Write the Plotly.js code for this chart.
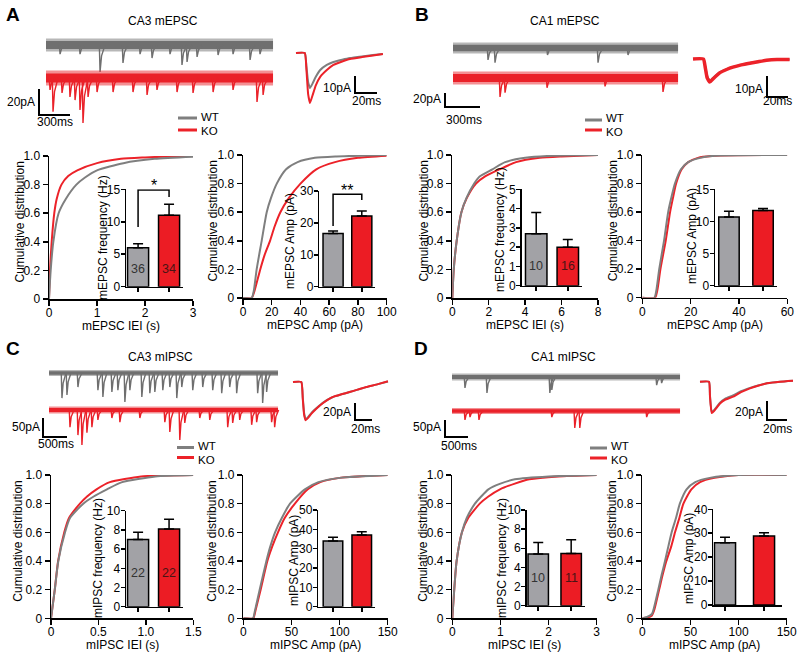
<!DOCTYPE html>
<html><head><meta charset="utf-8">
<script src="https://cdn.plot.ly/plotly-3.0.1.min.js"></script>
<style>html,body{margin:0;padding:0;background:#fff}#chart{width:800px;height:656px}</style>
</head><body><div id="chart"></div>
<script>
// ================= DATA =================
const groups = ['WT', 'KO'];

// ---- Panel A : CA3 mEPSC ----
const A_wt_evt_t = [136,329,523,745,910,1026,1200,1316,1365,1462,1665,1810,1975,2071];
const A_wt_evt_a = [7,7,20.8,13.8,7,10,7,15.4,13,9.2,7.7,7,11.5,7];
const A_ko_evt_t = [39,68,155,232,281,329,358,407,494,649,842,978,1074,1268,1423,1617,1810,2042,2101];
const A_ko_evt_a = [9.2,26,11.5,14.6,17,24.6,34.6,14.6,10.8,10.8,10.8,13,9.2,10.8,11.5,10.8,9.2,18.5,13];
const A_rec_ms = 2197;
const A_avg_t  = [0,8,9.5,11,12.7,15,18,22,28,34,42,49,60,70,79];
const A_avg_wt = [0,0,-8,-17,-20.6,-18,-14,-10,-7,-5.3,-4,-3,-2,-1.2,-0.6];
const A_avg_ko = [0,0,-10,-24,-29.4,-25,-19,-14,-10,-7,-5,-3.5,-2.4,-1.5,-0.6];
const A_iei_x_wt = [0,0.035,0.09,0.2,0.35,0.57,0.75,1.0,1.55,2.2,3.0];
const A_iei_y_wt = [0,0.2,0.4,0.6,0.7,0.8,0.85,0.9,0.95,0.98,0.995];
const A_iei_x_ko = [0,0.02,0.056,0.11,0.16,0.26,0.4,0.59,1.0,1.5,2.0,2.5,3.0];
const A_iei_y_ko = [0,0.2,0.4,0.6,0.7,0.8,0.86,0.9,0.95,0.98,0.99,0.997,1.0];
const A_amp_x_wt = [0,6,7.5,9.5,13,16.5,19.5,23.5,30,38,50,65,100];
const A_amp_y_wt = [0,0,0.05,0.2,0.4,0.6,0.7,0.8,0.9,0.95,0.98,0.99,1.0];
const A_amp_x_ko = [0,6,8,12,15,18.8,22,26,32,40,51,64,80,100];
const A_amp_y_ko = [0,0,0.05,0.2,0.3,0.4,0.5,0.6,0.7,0.8,0.9,0.95,0.98,0.995];
const A_freq_mean = [6.0, 11.0], A_freq_sem = [0.6, 1.7], A_n = [36, 34];
const A_amp_mean = [16.7, 22.2],  A_amp_sem = [0.8, 1.5];

// ---- Panel B : CA1 mEPSC ----
const B_wt_evt_t = [300,360,810,1243,1500];
const B_wt_evt_a = [17,21,10,21,10];
const B_ko_evt_t = [403,446,806,1303,1800];
const B_ko_evt_a = [27,21,14,12,20];
const B_rec_ms = 1929;
const B_avg_t  = [0,10,11.5,13.5,16,19,25.7,32,38,46,54,62,70,80,92];
const B_avg_wt = [0,0,-3,-8,-10.5,-9,-6.2,-4.8,-3.8,-2.8,-1.9,-1.2,-0.5,-0.3,-0.2];
const B_avg_ko = [0,0,-3.5,-9,-11,-9.5,-6.5,-5,-3.9,-2.8,-2,-1.3,-0.6,-0.2,-0.2];
const B_iei_x_wt = [0,0.08,0.24,0.5,0.78,1.2,1.5,2.2,2.9,4.0,5.5,8];
const B_iei_y_wt = [0,0.2,0.4,0.6,0.7,0.8,0.85,0.9,0.95,0.98,0.995,1.0];
const B_iei_x_ko = [0,0.08,0.24,0.5,0.8,1.3,1.8,2.6,3.5,4.8,6,8];
const B_iei_y_ko = [0,0.2,0.4,0.6,0.7,0.8,0.85,0.9,0.95,0.98,0.99,1.0];
const B_amp_x_wt = [0,5,5.8,7,9,10.7,12,13.5,16,19,24,30,60];
const B_amp_y_wt = [0,0,0.05,0.2,0.4,0.6,0.7,0.8,0.9,0.95,0.98,0.995,1];
const B_amp_x_ko = [0,5.3,6.2,7.5,9.7,11.5,12.7,14,16.3,19,23,30,60];
const B_amp_y_ko = [0,0,0.05,0.2,0.4,0.6,0.7,0.8,0.9,0.95,0.98,0.995,1];
const B_freq_mean = [2.7, 2.0], B_freq_sem = [1.1, 0.4], B_n = [10, 16];
const B_amp_mean = [10.7, 11.7], B_amp_sem = [0.9, 0.3];

// ---- Panel C : CA3 mIPSC ----
const C_wt_evt_t = [270,374,603,1019,1123,1310,1435,1581,1685,1934,2101,2205,2371,2517,2662,2766,2995,3203,3411,3598,3765,3910,4347,4451,4534];
const C_wt_evt_a = [66,58,37,45,63,50,45,76,45,63,53,50,45,37,66,37,45,37,45,53,37,53,53,79,50];
const C_ko_evt_t = [437,603,686,790,894,1019,1310,1477,1893,2413,2517,2725,2829,3141,3349,3723,3827,3973,4222,4326,4638,4701];
const C_ko_evt_a = [45,66,92,60,45,26,21,32,21,32,58,79,34,21,26,45,34,26,39,32,32,45];
const C_rec_ms = 4771;
const C_avg_t  = [0,9.8,11.5,13,14.9,18,22,27.4,35,47,57,66.6,76,86.2,100,111.7];
const C_avg_wt = [0,0,-18,-36,-44,-41,-36,-31,-24.5,-17.6,-14.5,-11.8,-9,-6,-2.5,0.5];
const C_avg_ko = [0,0,-20,-38,-45,-42,-37,-31.4,-25,-17.6,-14.5,-11.8,-9,-5.9,-2.5,0.8];
const C_iei_x_wt = [0,0.04,0.077,0.148,0.2,0.34,0.45,0.59,0.75,1.1,1.5];
const C_iei_y_wt = [0,0.2,0.4,0.6,0.7,0.8,0.85,0.9,0.95,0.99,1.0];
const C_iei_x_ko = [0,0.04,0.075,0.14,0.19,0.305,0.38,0.48,0.62,0.95,1.5];
const C_iei_y_ko = [0,0.2,0.4,0.6,0.7,0.8,0.85,0.9,0.95,0.99,1.0];
const C_amp_x_wt = [0,10,12,17,24,28,33,40,48.5,64,78,100,150];
const C_amp_y_wt = [0,0,0.05,0.2,0.4,0.5,0.6,0.7,0.8,0.9,0.95,0.98,1.0];
const C_amp_x_ko = [0,10.4,12.5,18,25,30,36,43,53.6,67,80,100,150];
const C_amp_y_ko = [0,0,0.05,0.2,0.4,0.5,0.6,0.7,0.8,0.9,0.95,0.98,1.0];
const C_freq_mean = [7.0, 8.1], C_freq_sem = [0.75, 1.0], C_n = [22, 22];
const C_amp_mean = [34.0, 37.1], C_amp_sem = [1.9, 1.7];

// ---- Panel D : CA1 mIPSC ----
const D_wt_evt_t = [282,760,2127,2170,4449,4557];
const D_wt_evt_a = [32,47,47,38,24,18];
const D_ko_evt_t = [282,391,586,2170,2669,2778,4232];
const D_ko_evt_a = [26,18,26,18,50,50,18];
const D_rec_ms = 4957;
const D_avg_t  = [0,9,10,11.7,14,17,20,25,33,41,50,58,67,80,93];
const D_avg_wt = [0,0,-15,-32,-30,-26,-22,-18,-14.5,-10,-6.5,-4,-1.7,0,1];
const D_avg_ko = [0,0,-16,-33,-31,-27,-23,-19,-15.8,-11,-7,-4.3,-1.7,0,1];
const D_iei_x_wt = [0,0.04,0.09,0.2,0.3,0.47,0.6,0.75,1.0,1.3,2.0,3.0];
const D_iei_y_wt = [0,0.2,0.4,0.6,0.7,0.8,0.85,0.9,0.94,0.97,0.99,1.0];
const D_iei_x_ko = [0,0.04,0.09,0.2,0.33,0.57,0.75,0.99,1.3,1.6,2.2,3.0];
const D_iei_y_ko = [0,0.2,0.4,0.6,0.7,0.8,0.85,0.9,0.94,0.97,0.99,1.0];
const D_amp_x_wt = [0,5,10,12,16.6,20,23.6,27,30.5,35,39,46,55,70,100,150];
const D_amp_y_wt = [0,0.01,0.03,0.07,0.2,0.3,0.4,0.5,0.6,0.7,0.8,0.9,0.95,0.98,1,1];
const D_amp_x_ko = [0,5,10,12.5,17.5,21,25,30,34,38.5,42.7,51,60,75,100,150];
const D_amp_y_ko = [0,0.005,0.02,0.06,0.2,0.3,0.4,0.5,0.6,0.7,0.8,0.9,0.95,0.98,1,1];
const D_freq_mean = [5.4, 5.45], D_freq_sem = [1.2, 1.45], D_n = [10, 11];
const D_amp_mean = [26.0, 28.8], D_amp_sem = [2.3, 1.4];

// tick labels
const cdf_y_ticks = [0,0.2,0.4,0.6,0.8,1.0];
const cdf_y_labels = ['0','0.2','0.4','0.6','0.8','1.0'];

// ================= RENDERING =================
const W = 800, H = 656;
const FONT = 'Liberation Sans, Arial, Helvetica, sans-serif';
const GRAY_L = '#7f7f7f', RED_L = '#ec2229', GRAY_B = '#a2a2a6', RED_B = '#ec1c24';
const GRAY_T = '#6f6f6f', RED_T = '#ea2129';
const fx = p => p / W, fy = p => 1 - p / H;

const layout = {
  width: W, height: H, margin: {l:0, r:0, t:0, b:0},
  paper_bgcolor: '#fff', plot_bgcolor: 'rgba(0,0,0,0)', showlegend: false,
  font: {family: FONT, color: '#000', size: 12},
  shapes: [], annotations: []
};
const data = [];
let axN = 0;
function newAxes(l, r, t, b, xo, yo) {
  axN++;
  const s = axN === 1 ? '' : axN;
  layout['xaxis' + s] = Object.assign({domain: [fx(l), fx(r)], anchor: 'y' + s, fixedrange: true}, xo);
  layout['yaxis' + s] = Object.assign({domain: [fy(b), fy(t)], anchor: 'x' + s, fixedrange: true}, yo);
  return {x: 'x' + s, y: 'y' + s};
}
const axStyle = {showline: true, linecolor: '#000', linewidth: 1.5, ticks: 'outside', ticklen: 5,
  tickwidth: 1.5, tickcolor: '#000', showgrid: false, zeroline: false, tickfont: {size: 12, color: '#000'}};
function txt(px, py, text, opt) {
  layout.annotations.push(Object.assign({xref: 'paper', yref: 'paper', x: fx(px), y: fy(py), text: text,
    showarrow: false, xanchor: 'center', yanchor: 'middle', font: {size: 12, color: '#000', family: FONT}}, opt || {}));
}

// ---- cumulative distribution plots ----
const cdfPanels = [
  {box:[49,193,156,299], xr:[0,3], xtv:[0,1,2,3], wt:[A_iei_x_wt,A_iei_y_wt], ko:[A_iei_x_ko,A_iei_y_ko], xt:'mEPSC IEI (s)', ytX:20},
  {box:[243,386.7,155,298], xr:[0,100], xtv:[0,20,40,60,80,100], wt:[A_amp_x_wt,A_amp_y_wt], ko:[A_amp_x_ko,A_amp_y_ko], xt:'mEPSC Amp (pA)', ytX:212},
  {box:[452.3,598,155,298], xr:[0,8], xtv:[0,2,4,6,8], wt:[B_iei_x_wt,B_iei_y_wt], ko:[B_iei_x_ko,B_iei_y_ko], xt:'mEPSC IEI (s)', ytX:423},
  {box:[642.3,787.3,155,297.7], xr:[0,60], xtv:[0,20,40,60], wt:[B_amp_x_wt,B_amp_y_wt], ko:[B_amp_x_ko,B_amp_y_ko], xt:'mEPSC Amp (pA)', ytX:613},
  {box:[51,193.3,475,618.3], xr:[0,1.5], xtv:[0,0.5,1,1.5], xtt:['0','0.5','1.0','1.5'], wt:[C_iei_x_wt,C_iei_y_wt], ko:[C_iei_x_ko,C_iei_y_ko], xt:'mIPSC IEI (s)', ytX:18},
  {box:[243.3,387.7,475,618.3], xr:[0,150], xtv:[0,50,100,150], wt:[C_amp_x_wt,C_amp_y_wt], ko:[C_amp_x_ko,C_amp_y_ko], xt:'mIPSC Amp (pA)', ytX:212},
  {box:[452.3,596.7,475,618.3], xr:[0,3], xtv:[0,1,2,3], wt:[D_iei_x_wt,D_iei_y_wt], ko:[D_iei_x_ko,D_iei_y_ko], xt:'mIPSC IEI (s)', ytX:423},
  {box:[642.3,786.7,475,618.3], xr:[0,150], xtv:[0,50,100,150], wt:[D_amp_x_wt,D_amp_y_wt], ko:[D_amp_x_ko,D_amp_y_ko], xt:'mIPSC Amp (pA)', ytX:612}
];
cdfPanels.forEach(p => {
  const [l, r, t, b] = p.box;
  const ax = newAxes(l, r, t, b,
    Object.assign({}, axStyle, {range: p.xr, tickvals: p.xtv, ticktext: p.xtt || p.xtv.map(String), ticklabelstandoff: -3}),
    Object.assign({}, axStyle, {range: [0, 1], tickvals: cdf_y_ticks, ticktext: cdf_y_labels}));
  data.push({type:'scatter', mode:'lines', x:p.ko[0], y:p.ko[1], xaxis:ax.x, yaxis:ax.y, name:groups[1],
    line:{color:RED_L, width:2, shape:'spline', smoothing:0.6}, hoverinfo:'skip'});
  data.push({type:'scatter', mode:'lines', x:p.wt[0], y:p.wt[1], xaxis:ax.x, yaxis:ax.y, name:groups[0],
    line:{color:GRAY_L, width:2, shape:'spline', smoothing:0.6}, hoverinfo:'skip'});
  txt((l + r) / 2, b + 27, p.xt);
  txt(p.ytX, (t + b) / 2 - 5, 'Cumulative distribution', {textangle: -90});
});

// ---- inset bar charts ----
const insets = [
  {box:[126,183,189.3,286.7], xr:[-0.39,1.45], yr:[0,15], ytv:[0,5,10,15], bw:0.68, m:A_freq_mean, e:A_freq_sem, n:A_n, nY:2.7, title:'mEPSC frequency (Hz)', tX:103, tY:238, br:{l:9.2, top:14.9, r:13.8, s:'*'}},
  {box:[319.3,375,191,286.7], xr:[-0.48,1.46], yr:[0,30], ytv:[0,10,20,30], bw:0.7, m:A_amp_mean, e:A_amp_sem, title:'mEPSC Amp (pA)', tX:290, tY:241, br:{l:19.0, top:29.0, r:27.2, s:'**'}},
  {box:[521.7,582,189.3,285.7], xr:[-0.46,1.45], yr:[0,5], ytv:[0,1,2,3,4,5], bw:0.68, m:B_freq_mean, e:B_freq_sem, n:B_n, nY:1.0, title:'mEPSC frequency (Hz)', tX:500, tY:230},
  {box:[715,777,189.3,285.7], xr:[-0.41,1.41], yr:[0,15], ytv:[0,5,10,15], bw:0.6, m:B_amp_mean, e:B_amp_sem, title:'mEPSC Amp (pA)', tX:692, tY:236},
  {box:[126,183,510.7,606.7], xr:[-0.39,1.45], yr:[0,10], ytv:[0,2,4,6,8,10], bw:0.68, m:C_freq_mean, e:C_freq_sem, n:C_n, nY:3.5, title:'mIPSC frequency (Hz)', tX:98, tY:558},
  {box:[318.3,375,510,606.7], xr:[-0.51,1.46], yr:[0,50], ytv:[0,10,20,30,40,50], bw:0.68, m:C_amp_mean, e:C_amp_sem, title:'mIPSC Amp (pA)', tX:294, tY:561},
  {box:[526.7,585,510,605.7], xr:[-0.35,1.42], yr:[0,10], ytv:[0,2,4,6,8,10], bw:0.62, m:D_freq_mean, e:D_freq_sem, n:D_n, nY:2.9, title:'mIPSC frequency (Hz)', tX:502, tY:558},
  {box:[713.3,782,509.3,605], xr:[-0.3,1.46], yr:[0,40], ytv:[0,10,20,30,40], bw:0.54, m:D_amp_mean, e:D_amp_sem, title:'mIPSC Amp (pA)', tX:689, tY:559}
];
insets.forEach(p => {
  const [l, r, t, b] = p.box;
  const ax = newAxes(l, r, t, b,
    Object.assign({}, axStyle, {range: p.xr, tickvals: [0, 1], showticklabels: false, ticklen: 4}),
    Object.assign({}, axStyle, {range: p.yr, tickvals: p.ytv, ticklen: 4, ticklabelstandoff: -2}));
  data.push({type:'bar', x:[0, 1], y:p.m, width:p.bw, xaxis:ax.x, yaxis:ax.y,
    marker:{color:[GRAY_B, RED_B], line:{color:'#000', width:1.5}},
    error_y:{type:'data', symmetric:false, array:p.e, arrayminus:[0, 0], color:'#000', thickness:1.5, width:5},
    hoverinfo:'skip'});
  if (p.n) {
    p.n.forEach((v, i) => layout.annotations.push({xref:ax.x, yref:ax.y, x:i, y:p.nY, text:String(v), showarrow:false,
      font:{size:12.5, color: i ? '#4a1414' : '#333', family:FONT}}));
  }
  if (p.br) {
    data.push({type:'scatter', mode:'lines', x:[0, 0, 1, 1], y:[p.br.l, p.br.top, p.br.top, p.br.r], xaxis:ax.x, yaxis:ax.y,
      line:{color:'#000', width:1.5}, hoverinfo:'skip', cliponaxis:false});
    layout.annotations.push({xref:ax.x, yref:ax.y, x:0.5, y:p.br.top, text:p.br.s, showarrow:false, yanchor:'middle', yshift:4,
      font:{size:16, color:'#000', family:FONT}});
  }
  txt(p.tX, p.tY, p.title, {textangle: -90});
});

// ---- raw recordings and averaged traces ----
function traceArea(c) {
  const [l, r, t, b] = c.box;
  const ax = newAxes(l, r, t, b,
    {visible:false, range:[(l - c.ox) * c.msPx, (r - c.ox) * c.msPx]},
    {visible:false, range:[(c.oy - b) * c.pAPx, (c.oy - t) * c.pAPx]});
  ax.toX = px => (px - c.ox) * c.msPx;
  ax.toY = py => (c.oy - py) * c.pAPx;
  ax.c = c;
  return ax;
}
function recording(ax, dur, evT, evA, basePy, color, bandPx, decayPx) {
  const base = ax.toY(basePy), ms = ax.c.msPx;
  // noise band: soft outer edge + solid core
  data.push({type:'scatter', mode:'lines', x:[0, dur], y:[base, base], xaxis:ax.x, yaxis:ax.y,
    line:{color:color, width:bandPx}, opacity:0.5, hoverinfo:'skip'});
  data.push({type:'scatter', mode:'lines', x:[0, dur], y:[base, base], xaxis:ax.x, yaxis:ax.y,
    line:{color:color, width:bandPx * 0.6}, hoverinfo:'skip'});
  const xs = [], ys = [];
  evT.forEach((t, i) => {
    const a = evA[i];
    xs.push(t - 0.7 * ms, t, t + 0.3 * decayPx * ms, t + decayPx * ms, null);
    ys.push(base, base - a, base - 0.4 * a, base, null);
  });
  data.push({type:'scatter', mode:'lines', x:xs, y:ys, xaxis:ax.x, yaxis:ax.y,
    line:{color:color, width:1.4}, hoverinfo:'skip'});
}
function average(ax, t, y, color, w) {
  data.push({type:'scatter', mode:'lines', x:t, y:y, xaxis:ax.x, yaxis:ax.y,
    line:{color:color, width:w, shape:'spline', smoothing:0.4}, hoverinfo:'skip'});
}
function scaleBar(ax, cx, cy, dT, dI) {
  const x0 = ax.toX(cx), y0 = ax.toY(cy);
  layout.shapes.push({type:'path', xref:ax.x, yref:ax.y,
    path:'M' + x0 + ',' + (y0 + dI) + ' L' + x0 + ',' + y0 + ' L' + (x0 + dT) + ',' + y0,
    line:{color:'#000', width:2}});
}
function legend(x0, x1, yW, yK) {
  layout.shapes.push({type:'line', xref:'paper', yref:'paper', x0:fx(x0), x1:fx(x1), y0:fy(yW), y1:fy(yW), line:{color:GRAY_L, width:3}});
  layout.shapes.push({type:'line', xref:'paper', yref:'paper', x0:fx(x0), x1:fx(x1), y0:fy(yK), y1:fy(yK), line:{color:RED_L, width:3}});
  const mid = (yW + yK) / 2;
  const f = {size:11.5, color:'#000', family:FONT};
  txt(x1 + 3, mid, groups[0], {xanchor:'left', yanchor:'bottom', borderpad:0, font:f});
  txt(x1 + 3, mid, groups[1], {xanchor:'left', yanchor:'top', borderpad:0, font:f});
}

// Panel A
let rA = traceArea({box:[0,292,28,130], ox:46, oy:45, msPx:300/31, pAPx:20/26});
recording(rA, A_rec_ms, A_wt_evt_t, A_wt_evt_a, 45, GRAY_T, 13, 5);
recording(rA, A_rec_ms, A_ko_evt_t, A_ko_evt_a, 78, RED_T, 15, 5);
scaleBar(rA, 39, 115, 300, 20);
let aA = traceArea({box:[290,395,45,120], ox:296, oy:53, msPx:20/22, pAPx:10/17});
average(aA, A_avg_t, A_avg_wt, GRAY_L, 2);
average(aA, A_avg_t, A_avg_ko, RED_L, 2);
scaleBar(aA, 355, 93, 20, 10);
// Panel B
let rB = traceArea({box:[400,690,30,115], ox:453, oy:48, msPx:300/35, pAPx:20/14});
recording(rB, B_rec_ms, B_wt_evt_t, B_wt_evt_a, 48, GRAY_T, 11, 5);
recording(rB, B_rec_ms, B_ko_evt_t, B_ko_evt_a, 78, RED_T, 13, 5);
scaleBar(rB, 445, 107, 300, 20);
let aB = traceArea({box:[688,798,50,110], ox:693, oy:59, msPx:20/21, pAPx:10/21});
average(aB, B_avg_t, B_avg_wt, GRAY_L, 2);
average(aB, B_avg_t, B_avg_ko, RED_L, 3.5);
scaleBar(aB, 767, 97, 20, 10);
// Panel C
let rC = traceArea({box:[0,290,362,452], ox:49, oy:373, msPx:500/24, pAPx:50/19});
recording(rC, C_rec_ms, C_wt_evt_t, C_wt_evt_a, 373, GRAY_T, 6, 4);
recording(rC, C_rec_ms, C_ko_evt_t, C_ko_evt_a, 410, RED_T, 7, 4);
scaleBar(rC, 43, 437, 500, 50);
let aC = traceArea({box:[288,395,372,430], ox:293, oy:382, msPx:20/17, pAPx:20/17});
average(aC, C_avg_t, C_avg_wt, GRAY_L, 2);
average(aC, C_avg_t, C_avg_ko, RED_L, 2);
scaleBar(aC, 355, 420, 20, 20);
// Panel D
let rD = traceArea({box:[400,690,365,450], ox:452, oy:377, msPx:500/23, pAPx:50/17});
recording(rD, D_rec_ms, D_wt_evt_t, D_wt_evt_a, 377, GRAY_T, 7, 4);
recording(rD, D_rec_ms, D_ko_evt_t, D_ko_evt_a, 411, RED_T, 6, 4);
scaleBar(rD, 445, 437, 500, 50);
let aD = traceArea({box:[695,798,372,430], ox:700, oy:381.7, msPx:20/20, pAPx:20/19});
average(aD, D_avg_t, D_avg_wt, GRAY_L, 2);
average(aD, D_avg_t, D_avg_ko, RED_L, 2);
scaleBar(aD, 767, 420, 20, 20);

// legends
legend(178, 197, 118, 130);
legend(585, 602, 120, 130);
legend(177, 194, 447.5, 457.5);
legend(590, 607, 448, 458);

// panel letters & titles
const boldL = {font:{size:19, color:'#000', family:FONT, weight:'bold'}};
txt(12.5, 14, '<b>A</b>', boldL); txt(422, 14, '<b>B</b>', boldL);
txt(12.5, 348, '<b>C</b>', boldL); txt(421, 348, '<b>D</b>', boldL);
txt(163, 21, 'CA3 mEPSC'); txt(565, 21, 'CA1 mEPSC');
txt(160, 357, 'CA3 mIPSC'); txt(563, 357, 'CA1 mIPSC');

// scale bar labels
txt(37, 102, '20pA', {xanchor:'right'}); txt(55, 122, '300ms');
txt(353, 88, '10pA', {xanchor:'right'}); txt(366, 101, '20ms');
txt(443, 99, '20pA', {xanchor:'right'}); txt(464, 120, '300ms');
txt(765, 89, '10pA', {xanchor:'right'}); txt(777, 101, '20ms');
txt(42, 427, '50pA', {xanchor:'right'}); txt(56, 444, '500ms');
txt(353, 412, '20pA', {xanchor:'right'}); txt(365, 429, '20ms');
txt(443, 427, '50pA', {xanchor:'right'}); txt(459, 446, '500ms');
txt(765, 412, '20pA', {xanchor:'right'}); txt(777, 429, '20ms');

Plotly.newPlot('chart', data, layout, {displayModeBar:false, staticPlot:true});
</script></body></html>
